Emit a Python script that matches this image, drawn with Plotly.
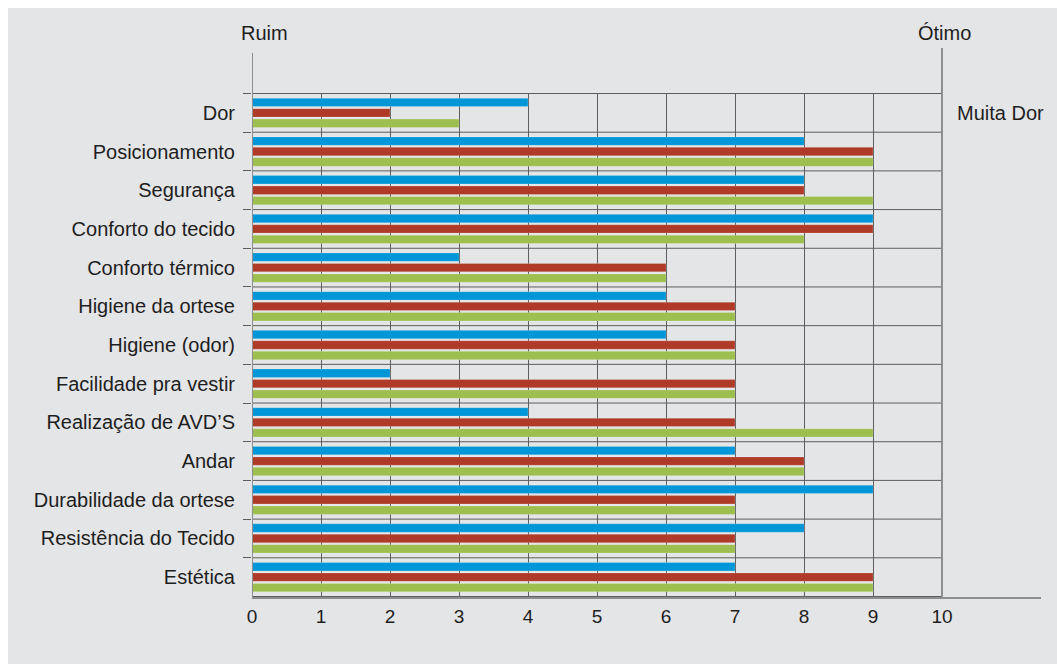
import plotly.graph_objects as go

categories = ["Dor", "Posicionamento", "Segurança", "Conforto do tecido",
              "Conforto térmico", "Higiene da ortese", "Higiene (odor)",
              "Facilidade pra vestir", "Realização de AVD’S", "Andar",
              "Durabilidade da ortese", "Resistência do Tecido", "Estética"]
serie_azul = [4, 8, 8, 9, 3, 6, 6, 2, 4, 7, 9, 8, 7]
serie_vermelha = [2, 9, 8, 9, 6, 7, 7, 7, 7, 8, 7, 7, 9]
serie_verde = [3, 9, 9, 8, 6, 7, 7, 7, 9, 8, 7, 7, 9]
x_ticks = [0, 1, 2, 3, 4, 5, 6, 7, 8, 9, 10]

BG = "#e4e5e7"
FONT = "Liberation Sans, Arial, sans-serif"
GRID = "#5e5e5e"
AXIS = "#8e8e8e"
TXT = "#1e1e1e"

fig = go.Figure()
for vals, col, name in [(serie_azul, "#0096d8", "A"),
                        (serie_vermelha, "#ae3a27", "B"),
                        (serie_verde, "#9cbf50", "C")]:
    fig.add_trace(go.Bar(y=categories, x=vals, orientation="h", name=name,
                         marker=dict(color=col, line=dict(color="rgba(255,255,255,0.4)", width=0.5))))

shapes = []
W, H = 1057, 664
L, R, T, B = 252, 16, 93, 67
pw, ph = W - L - R, H - T - B
# white frame strips at top and left (paper background is grey)
shapes.append(dict(type="rect", xref="paper", yref="paper",
                   x0=-(L + 5) / pw, x1=(W + 5 - L) / pw, y0=1 + (T - 8) / ph, y1=1 + (T + 5) / ph,
                   fillcolor="white", line=dict(width=0), layer="below"))
shapes.append(dict(type="rect", xref="paper", yref="paper",
                   x0=-(L + 5) / pw, x1=(8 - L) / pw, y0=-(B + 5) / ph, y1=1 + (T + 5) / ph,
                   fillcolor="white", line=dict(width=0), layer="below"))
n = len(categories)
for i in range(n + 1):
    shapes.append(dict(type="line", xref="x", yref="y", x0=0, x1=10,
                       y0=i - 0.5, y1=i - 0.5, line=dict(color=GRID, width=1), layer="above"))
shapes.append(dict(type="line", xref="x", yref="paper", x0=0, x1=0, y0=0, y1=1 + 40 / ph,
                   line=dict(color=AXIS, width=2)))
shapes.append(dict(type="line", xref="x", yref="paper", x0=10, x1=10, y0=0, y1=1 + 45 / ph,
                   line=dict(color=AXIS, width=2)))

annotations = [
    dict(text="Ruim", xref="x", yref="paper", x=0, y=1 + 60 / ph, xanchor="left", xshift=-13,
         yanchor="middle", showarrow=False, font=dict(size=20, color=TXT, family=FONT)),
    dict(text="Ótimo", xref="x", yref="paper", x=10, y=1 + 60 / ph, xanchor="center", xshift=2,
         yanchor="middle", showarrow=False, font=dict(size=20, color=TXT, family=FONT)),
    dict(text="Muita Dor", xref="x", yref="y", x=10, y=0, xanchor="left", xshift=13,
         yanchor="middle", showarrow=False, font=dict(size=20, color=TXT, family=FONT)),
]

fig.update_layout(
    width=W, height=H,
    margin=dict(l=L, r=R, t=T, b=B),
    paper_bgcolor=BG, plot_bgcolor="rgba(0,0,0,0)",
    barmode="group", bargap=0.19, bargroupgap=0.2,
    showlegend=False,
    font=dict(family=FONT, size=20, color=TXT),
    shapes=shapes, annotations=annotations,
    xaxis=dict(range=[0, (pw) / 69.0], tickvals=x_ticks, ticktext=[str(v) for v in x_ticks],
               showgrid=True, gridcolor=GRID, gridwidth=1, zeroline=False,
               showline=True, linecolor=AXIS, linewidth=2, ticks="",
               ticklabelstandoff=1, tickfont=dict(size=19, color=TXT)),
    yaxis=dict(type="category", autorange="reversed", showgrid=False, zeroline=False,
               showline=False, ticks="outside", tickson="boundaries", ticklen=8,
               tickcolor=GRID, tickwidth=1, ticklabelstandoff=16,
               tickfont=dict(size=20, color=TXT)),
)

fig.write_html("out.html")
